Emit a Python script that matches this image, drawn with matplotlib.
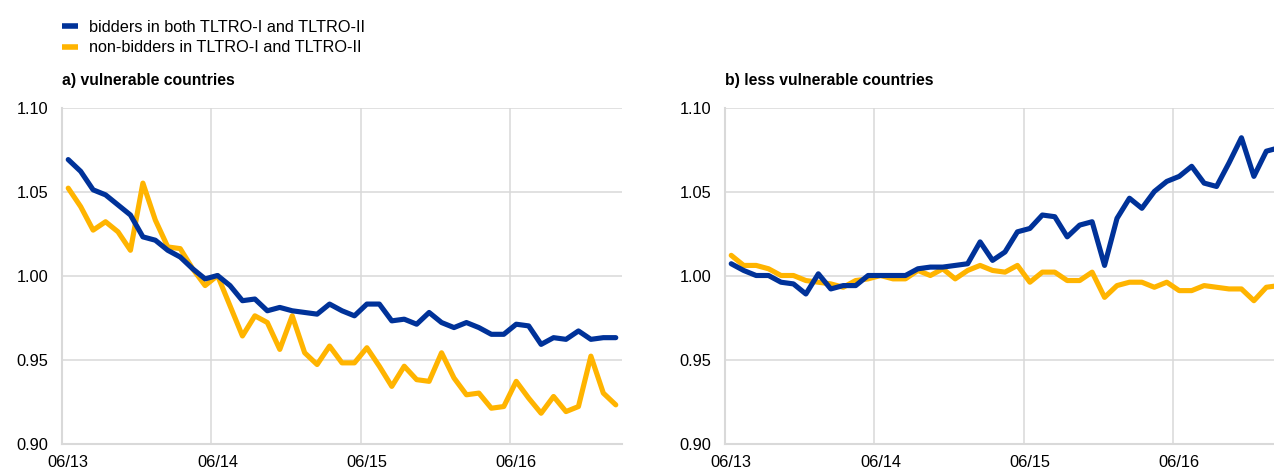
import matplotlib
matplotlib.use("Agg")
import matplotlib.pyplot as plt
from matplotlib.lines import Line2D
import numpy as np

plt.rcParams["font.family"] = ["Liberation Sans", "DejaVu Sans"]

# Monthly observations, June 2013 to February 2017
months = [f"{m:02d}/{y:02d}" for y in range(13, 18) for m in range(1, 13)][5:5 + 45]
tick_labels = ["06/13", "06/14", "06/15", "06/16"]

vuln_bidders = [
    1.069, 1.062, 1.051, 1.048, 1.042, 1.036, 1.023, 1.021, 1.015, 1.011,
    1.004, 0.998, 1.000, 0.994, 0.985, 0.986, 0.979, 0.981, 0.979, 0.978,
    0.977, 0.983, 0.979, 0.976, 0.983, 0.983, 0.973, 0.974, 0.971, 0.978,
    0.972, 0.969, 0.972, 0.969, 0.965, 0.965, 0.971, 0.970, 0.959, 0.963,
    0.962, 0.967, 0.962, 0.963, 0.963,
]
vuln_nonbidders = [
    1.052, 1.041, 1.027, 1.032, 1.026, 1.015, 1.055, 1.033, 1.017, 1.016,
    1.004, 0.994, 1.000, 0.982, 0.964, 0.976, 0.972, 0.956, 0.976, 0.954,
    0.947, 0.958, 0.948, 0.948, 0.957, 0.946, 0.934, 0.946, 0.938, 0.937,
    0.954, 0.939, 0.929, 0.930, 0.921, 0.922, 0.937, 0.927, 0.918, 0.928,
    0.919, 0.922, 0.952, 0.930, 0.923,
]
less_bidders = [
    1.007, 1.003, 1.000, 1.000, 0.996, 0.995, 0.989, 1.001, 0.992, 0.994,
    0.994, 1.000, 1.000, 1.000, 1.000, 1.004, 1.005, 1.005, 1.006, 1.007,
    1.020, 1.009, 1.014, 1.026, 1.028, 1.036, 1.035, 1.023, 1.030, 1.032,
    1.006, 1.034, 1.046, 1.040, 1.050, 1.056, 1.059, 1.065, 1.055, 1.053,
    1.067, 1.082, 1.059, 1.074, 1.076,
]
less_nonbidders = [
    1.012, 1.006, 1.006, 1.004, 1.000, 1.000, 0.997, 0.996, 0.995, 0.993,
    0.997, 0.998, 1.000, 0.998, 0.998, 1.003, 1.000, 1.004, 0.998, 1.003,
    1.006, 1.003, 1.002, 1.006, 0.996, 1.002, 1.002, 0.997, 0.997, 1.002,
    0.987, 0.994, 0.996, 0.996, 0.993, 0.996, 0.991, 0.991, 0.994, 0.993,
    0.992, 0.992, 0.985, 0.993, 0.994,
]

series_labels = ["bidders in both TLTRO-I and TLTRO-II",
                 "non-bidders in TLTRO-I and TLTRO-II"]
panel_titles = ["a) vulnerable countries", "b) less vulnerable countries"]

BLUE = "#003299"
YELLOW = "#FFB400"
GRID = "#d9d9d9"

W, H = 1274, 471
fig = plt.figure(figsize=(W / 100, H / 100), dpi=100)

x = np.arange(len(months))
tick_pos = [months.index(t) for t in tick_labels]

panels = [
    (62, panel_titles[0], vuln_bidders, vuln_nonbidders),
    (725, panel_titles[1], less_bidders, less_nonbidders),
]

for left_px, title, bid, nonbid in panels:
    ax = fig.add_axes([left_px / W, (H - 443.5) / H, 560 / W, 336 / H])
    ax.plot(x, nonbid, color=YELLOW, lw=3.7, solid_joinstyle="round",
            solid_capstyle="round", zorder=3)
    ax.plot(x, bid, color=BLUE, lw=3.7, solid_joinstyle="round",
            solid_capstyle="round", zorder=4)
    ax.set_xlim(-0.5, len(months) - 0.5)
    ax.set_ylim(0.90, 1.10)
    yt = [0.90, 0.95, 1.00, 1.05, 1.10]
    ax.set_yticks(yt)
    ax.set_yticklabels([f"{v:.2f}" for v in yt])
    ax.set_xticks(tick_pos)
    ax.set_xticklabels(tick_labels)
    # year separators at the June category boundaries
    ax.set_xticks([p - 0.5 for p in tick_pos[1:]], minor=True)
    ax.grid(axis="y", which="major", color=GRID, lw=1.1, zorder=0)
    ax.grid(axis="x", which="minor", color=GRID, lw=1.1, zorder=0)
    ax.grid(axis="x", which="major", visible=False)
    ax.tick_params(which="both", length=0, labelsize=11.8, colors="#000000")
    ax.tick_params(axis="y", pad=10)
    ax.tick_params(axis="x", pad=8)
    for s in ["top", "right"]:
        ax.spines[s].set_visible(False)
    for s in ["left", "bottom"]:
        ax.spines[s].set_color(GRID)
        ax.spines[s].set_linewidth(1.5)
    ax.set_axisbelow(True)
    fig.text(left_px / W, 1 - 80 / H, title, fontsize=11.3, fontweight="bold",
             ha="left", va="center")

handles = [Line2D([], [], color=BLUE, lw=4, solid_capstyle="butt"),
           Line2D([], [], color=YELLOW, lw=4, solid_capstyle="butt")]
fig.legend(handles, series_labels, loc="upper left",
           bbox_to_anchor=(62 / W, 1 - 20 / H), frameon=False, fontsize=11.7,
           handlelength=1.0, handletextpad=0.65, labelspacing=0.33,
           borderpad=0, borderaxespad=0)

fig.savefig("out.png", dpi=100)
